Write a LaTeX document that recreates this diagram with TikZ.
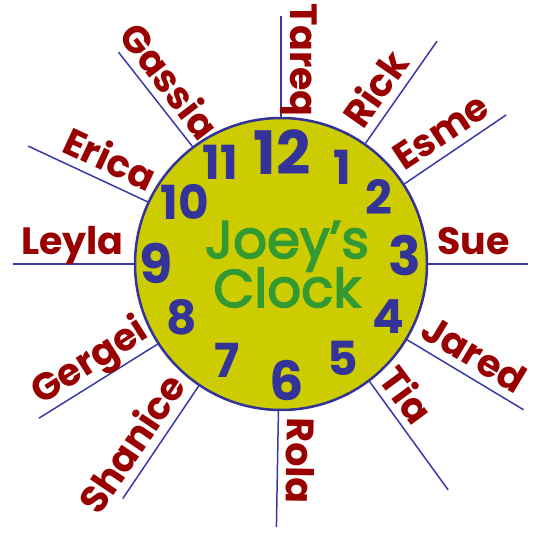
\documentclass[tikz,border=0pt]{standalone}
\usepackage{fontspec}
\setmainfont{Poppins}
\newfontfamily\titlefont[FakeBold=3]{Poppins}
\usetikzlibrary{calc}
\definecolor{namered}{HTML}{990000}
\definecolor{spokeblue}{HTML}{3A3AA6}
\definecolor{rimblue}{HTML}{333399}
\definecolor{facefill}{HTML}{CCCC00}
\definecolor{titlegreen}{HTML}{339933}
\begin{document}
\begin{tikzpicture}[x=1pt,y=1pt,
  spoke/.style={draw=spokeblue, line width=1.5pt},
  namelbl/.style={text=namered, font=\fontsize{38}{38}\selectfont\bfseries, inner sep=0pt},
  numlbl/.style={text=rimblue, font=\fontsize{47}{47}\selectfont\bfseries, inner sep=0pt},
  biglbl/.style={text=rimblue, font=\fontsize{54}{54}\selectfont\bfseries, inner sep=0pt},
  titlelbl/.style={text=titlegreen, font=\fontsize{53}{53}\titlefont, inner sep=0pt, anchor=base},
]
\useasboundingbox (0,0) rectangle (535,535);
\coordinate (c) at (281,271);
\node[circle, draw=rimblue, fill=facefill, line width=2.5pt, minimum size=292pt, inner sep=0pt] (clock) at (c) {};
% names reading outward
\foreach \a/\L/\r/\t/\nm in {55/272/156/Rick/rick, 33.5/270/154/Esme/esme, 0/247/156/Sue/sue, -31/283/155/Jared/jared, -53.5/281/150/Tia/tia, -91/263/153/Rola/rola}{
  \coordinate (end\nm) at ($(c)+(\a:\L)$);
  \draw[spoke] (clock.\a) -- (end\nm);
  \node[namelbl, rotate=\a, anchor=base west] (\nm) at ($(c)+(\a:\r)+(\a+90:9)$) {\t};
}
% names reading inward
\foreach \a/\L/\r/\t/\nm in {90/248/147/Tareq/tareq, 127.5/267/146/Gassia/gassia, 155/279/151/Erica/erica, 180/268/157/Leyla/leyla, -147.5/287/149/Gergei/gergei, -124/283/153/Shanice/shanice}{
  \coordinate (end\nm) at ($(c)+(\a:\L)$);
  \draw[spoke] (clock.\a) -- (end\nm);
  \node[namelbl, rotate=\a+180, anchor=base east] (\nm) at ($(c)+(\a:\r)+(\a-90:9)$) {\t};
}
% clock numbers
\node[biglbl, font=\fontsize{60}{60}\selectfont\bfseries] (n12) at (282,383) {12};
\node[numlbl] (n11) at (220,373) {11};
\node[numlbl] (n1) at (342,368) {1};
\node[numlbl] (n10) at (185,333) {10};
\node[numlbl] (n2) at (379,338) {2};
\node[biglbl] (n9) at (156,272) {9};
\node[biglbl] (n3) at (405,280) {3};
\node[numlbl] (n8) at (182,218) {8};
\node[numlbl] (n4) at (388,218) {4};
\node[numlbl] (n7) at (227,175) {7};
\node[biglbl] (n6) at (287,155) {6};
\node[numlbl] (n5) at (343,177) {5};
% title
\node[titlelbl] (joey) at (287,277) {Joey’s};
\node[titlelbl] (clk) at (287,228) {Clock};
\end{tikzpicture}
\end{document}
